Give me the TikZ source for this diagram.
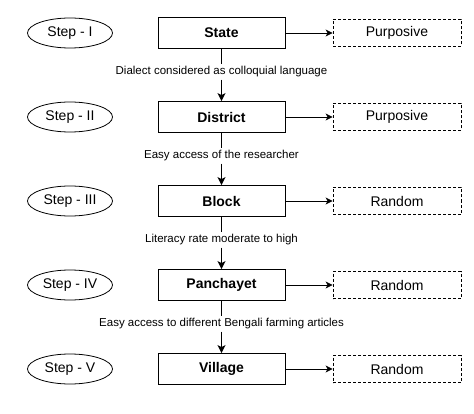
\documentclass[tikz,border=0pt]{standalone}
\usepackage{fontspec}
\setmainfont{Liberation Sans}
\usetikzlibrary{arrows.meta,shapes.geometric}

\tikzset{
    stepnode/.style={draw,line width=0.8pt,ellipse,inner sep=0pt,minimum width=85pt,minimum height=30pt,font=\fontsize{14}{16}\selectfont},
    levelbox/.style={draw,line width=0.8pt,rectangle,inner sep=0pt,minimum width=127pt,minimum height=31pt,font=\fontsize{14}{16}\selectfont\bfseries},
    methodbox/.style={draw,line width=0.8pt,rectangle,dash pattern=on 3pt off 2pt,inner sep=0pt,minimum width=128pt,minimum height=27pt,font=\fontsize{14}{16}\selectfont},
    reason/.style={inner sep=2pt,font=\fontsize{11.5}{13}\selectfont}
}

\begin{document}
\begin{tikzpicture}[x=1pt,y=1pt]
        \useasboundingbox (0,0) rectangle (474,413);
        \foreach \i/\stp/\lvl/\how in {1/I/State/Purposive,2/II/District/Purposive,3/III/Block/Random,4/IV/Panchayet/Random,5/V/Village/Random}{
            \node[stepnode] (step\i) at (70,464-84*\i) {Step - \stp};
            \node[levelbox] (lvl\i) at (221.5,464-84*\i) {\lvl};
            \node[methodbox] (how\i) at (397,464-84*\i) {\how};
            \draw[line width=0.8pt,-{Stealth[length=7pt,width=7pt,inset=2pt]}] (lvl\i) -- (how\i);
        }
        % reasons between the levels
        \foreach \i/\txt in {1/Dialect considered as colloquial language,2/Easy access of the researcher,3/Literacy rate moderate to high,4/Easy access to different Bengali farming articles}{
            \pgfmathtruncatemacro\j{\i+1}
            \node[reason] (why\i) at (221.5,425-84*\i) {\txt};
            \draw[line width=1.6pt] (lvl\i) -- (why\i);
            \draw[line width=1.6pt,-{Stealth[length=8pt,width=8pt,inset=2pt]}] (why\i) -- (lvl\j);
        }
\end{tikzpicture}
\end{document}
